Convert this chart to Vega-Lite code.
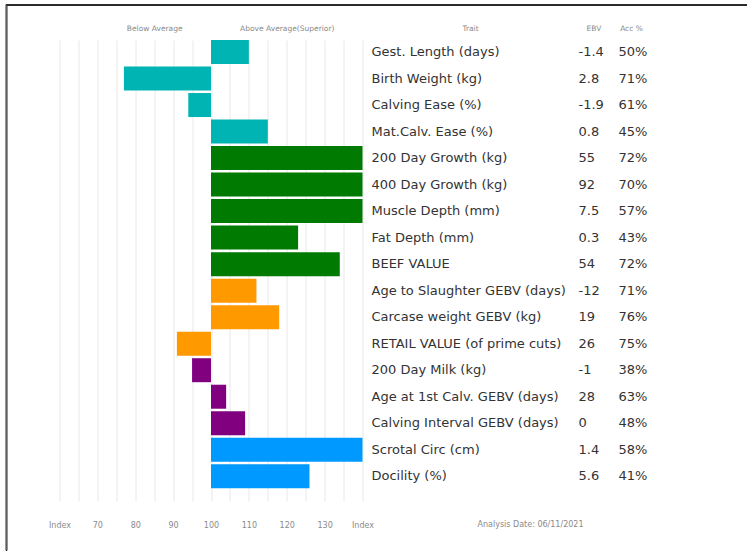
{
  "$schema": "https://vega.github.io/schema/vega-lite/v6.json",
  "padding": {"left": 4.5, "top": 3, "right": 0, "bottom": 0},
  "background": "white",
  "config": {
    "view": {"stroke": null},
    "font": "DejaVu Sans",
    "text": {"font": "DejaVu Sans"}
  },
  "datasets": {
    "traits": [
      {"trait": "Gest. Length (days)", "group": "calving", "index": 110, "ebv": "-1.4", "acc": "50%"},
      {"trait": "Birth Weight (kg)", "group": "calving", "index": 77, "ebv": "2.8", "acc": "71%"},
      {"trait": "Calving Ease (%)", "group": "calving", "index": 94, "ebv": "-1.9", "acc": "61%"},
      {"trait": "Mat.Calv. Ease (%)", "group": "calving", "index": 115, "ebv": "0.8", "acc": "45%"},
      {"trait": "200 Day Growth (kg)", "group": "growth", "index": 140, "ebv": "55", "acc": "72%"},
      {"trait": "400 Day Growth (kg)", "group": "growth", "index": 140, "ebv": "92", "acc": "70%"},
      {"trait": "Muscle Depth (mm)", "group": "growth", "index": 140, "ebv": "7.5", "acc": "57%"},
      {"trait": "Fat Depth (mm)", "group": "growth", "index": 123, "ebv": "0.3", "acc": "43%"},
      {"trait": "BEEF VALUE", "group": "growth", "index": 134, "ebv": "54", "acc": "72%"},
      {"trait": "Age to Slaughter GEBV (days)", "group": "carcase", "index": 112, "ebv": "-12", "acc": "71%"},
      {"trait": "Carcase weight GEBV (kg)", "group": "carcase", "index": 118, "ebv": "19", "acc": "76%"},
      {"trait": "RETAIL VALUE (of prime cuts)", "group": "carcase", "index": 91, "ebv": "26", "acc": "75%"},
      {"trait": "200 Day Milk (kg)", "group": "maternal", "index": 95, "ebv": "-1", "acc": "38%"},
      {"trait": "Age at 1st Calv. GEBV (days)", "group": "maternal", "index": 104, "ebv": "28", "acc": "63%"},
      {"trait": "Calving Interval GEBV (days)", "group": "maternal", "index": 109, "ebv": "0", "acc": "48%"},
      {"trait": "Scrotal Circ (cm)", "group": "other", "index": 140, "ebv": "1.4", "acc": "58%"},
      {"trait": "Docility (%)", "group": "other", "index": 126, "ebv": "5.6", "acc": "41%"}
    ],
    "none": []
  },
  "bounds": "flush",
  "spacing": 0,
  "hconcat": [
    {
      "width": 1,
      "height": 546,
      "data": {"name": "none"},
      "view": {"stroke": "#2b2b2b", "strokeWidth": 1},
      "mark": "point",
      "encoding": {}
    },
    {
      "bounds": "flush",
      "spacing": 35,
      "vconcat": [
        {
          "width": 741,
          "height": 1,
          "data": {"name": "none"},
          "view": {"stroke": "#2b2b2b", "strokeWidth": 1},
          "mark": "point",
          "encoding": {}
        },
        {
          "bounds": "flush",
          "spacing": 9,
          "hconcat": [
            {
              "width": 44,
              "height": 461,
              "data": {"name": "none"},
              "mark": "point",
              "encoding": {}
            },
            {
              "width": 303,
              "height": 461,
              "data": {"name": "traits"},
              "layer": [
                {
                  "mark": {"type": "bar"},
                  "encoding": {
                    "y": {"field": "trait", "type": "nominal", "sort": null, "axis": null,
                          "scale": {"type": "band", "paddingInner": 0.095, "paddingOuter": 0.24, "align": 0}},
                    "x": {"field": "index", "type": "quantitative",
                          "scale": {"domain": [60, 140], "nice": false, "zero": false},
                          "axis": {
                            "orient": "bottom",
                            "values": [60, 65, 70, 75, 80, 85, 90, 95, 100, 105, 110, 115, 120, 125, 130, 135, 140],
                            "labelExpr": "datum.value == 60 || datum.value == 140 ? 'Index' : (datum.value % 10 == 0 ? datum.label : '')",
                            "grid": true, "gridColor": "#e8e8e8", "gridWidth": 1,
                            "ticks": false, "domain": false, "title": null,
                            "labelPadding": 20, "labelFontSize": 8, "labelColor": "#8a8a8a",
                            "labelFlush": false, "labelOverlap": false
                          }},
                    "x2": {"datum": 100},
                    "color": {"field": "group", "type": "nominal", "legend": null,
                              "scale": {"domain": ["calving", "growth", "carcase", "maternal", "other"],
                                        "range": ["#00B4B4", "#007A00", "#FF9900", "#800080", "#0099FF"]}}
                  }
                },
                {
                  "mark": {"type": "tick", "opacity": 0},
                  "encoding": {
                    "x": {"field": "index", "type": "quantitative",
                          "scale": {"domain": [60, 140], "nice": false, "zero": false},
                          "axis": {
                            "orient": "top",
                            "values": [85, 120],
                            "labelExpr": "datum.value < 100 ? 'Below Average' : 'Above Average(Superior)'",
                            "grid": false, "ticks": false, "domain": false, "title": null,
                            "labelPadding": 8, "labelFontSize": 7.5, "labelColor": "#8a8a8a",
                            "labelFlush": false, "labelOverlap": false
                          }}
                  }
                }
              ],
              "resolve": {"axis": {"x": "independent"}}
            },
            {
              "width": 198,
              "height": 461,
              "data": {"name": "traits"},
              "title": {"text": "Analysis Date: 06/11/2021", "orient": "bottom", "anchor": "middle", "dx": 60, "offset": 20,
                        "fontSize": 8, "fontWeight": "normal", "color": "#8a8a8a"},
              "mark": {"type": "text", "align": "left", "baseline": "middle", "fontSize": 13, "color": "#333333"},
              "encoding": {
                "y": {"field": "trait", "type": "nominal", "sort": null, "axis": null,
                      "scale": {"type": "band", "paddingInner": 0.095, "paddingOuter": 0.24, "align": 0}},
                "x": {"datum": "Trait", "type": "nominal", "bandPosition": 0,
                      "scale": {"type": "band", "paddingInner": 0, "paddingOuter": 0},
                      "axis": {"orient": "top", "title": null, "ticks": false, "domain": false,
                               "labelPadding": 8, "labelFontSize": 7.5, "labelColor": "#8a8a8a", "labelAngle": 0}},
                "text": {"field": "trait"}
              }
            },
            {
              "width": 31,
              "height": 461,
              "data": {"name": "traits"},
              "mark": {"type": "text", "align": "left", "baseline": "middle", "fontSize": 13, "color": "#333333"},
              "encoding": {
                "y": {"field": "trait", "type": "nominal", "sort": null, "axis": null,
                      "scale": {"type": "band", "paddingInner": 0.095, "paddingOuter": 0.24, "align": 0}},
                "x": {"datum": "EBV", "type": "nominal", "bandPosition": 0,
                      "scale": {"type": "band", "paddingInner": 0, "paddingOuter": 0},
                      "axis": {"orient": "top", "title": null, "ticks": false, "domain": false,
                               "labelPadding": 8, "labelFontSize": 7.5, "labelColor": "#8a8a8a", "labelAngle": 0}},
                "text": {"field": "ebv"}
              }
            },
            {
              "width": 26,
              "height": 461,
              "data": {"name": "traits"},
              "mark": {"type": "text", "align": "left", "baseline": "middle", "fontSize": 13, "color": "#333333"},
              "encoding": {
                "y": {"field": "trait", "type": "nominal", "sort": null, "axis": null,
                      "scale": {"type": "band", "paddingInner": 0.095, "paddingOuter": 0.24, "align": 0}},
                "x": {"datum": "Acc %", "type": "nominal", "bandPosition": 0,
                      "scale": {"type": "band", "paddingInner": 0, "paddingOuter": 0},
                      "axis": {"orient": "top", "title": null, "ticks": false, "domain": false,
                               "labelPadding": 8, "labelFontSize": 7.5, "labelColor": "#8a8a8a", "labelAngle": 0}},
                "text": {"field": "acc"}
              }
            }
          ]
        }
      ]
    }
  ]
}
